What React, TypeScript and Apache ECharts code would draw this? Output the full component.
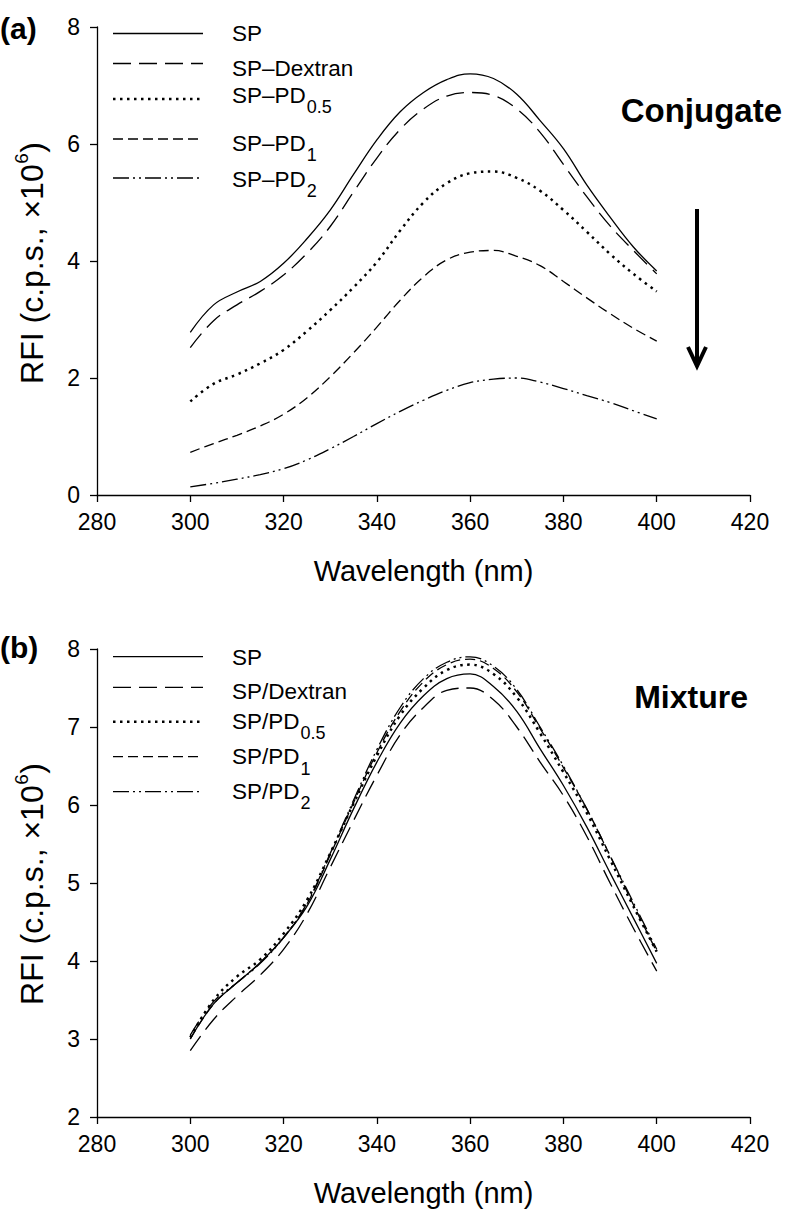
import React, { useEffect, useRef } from "react";
import * as echarts from "echarts";

const wavelengths = [300, 305, 310, 315, 320, 325, 330, 335, 340, 345, 350, 355, 360, 365, 370, 375, 380, 385, 390, 395, 400];

// (a) Conjugate
const conjSP = [2.78, 3.25, 3.47, 3.65, 3.96, 4.38, 4.87, 5.48, 6.07, 6.55, 6.88, 7.1, 7.2, 7.12, 6.85, 6.4, 5.92, 5.3, 4.75, 4.24, 3.83];
const conjDextran = [2.52, 2.98, 3.25, 3.48, 3.76, 4.13, 4.59, 5.18, 5.76, 6.25, 6.6, 6.82, 6.88, 6.83, 6.6, 6.2, 5.65, 5.1, 4.6, 4.18, 3.78];
const conjPD05 = [1.6, 1.9, 2.06, 2.25, 2.48, 2.8, 3.16, 3.55, 3.98, 4.52, 5.0, 5.33, 5.5, 5.53, 5.42, 5.2, 4.87, 4.5, 4.12, 3.78, 3.48];
const conjPD1 = [0.73, 0.88, 1.02, 1.18, 1.38, 1.66, 2.02, 2.43, 2.87, 3.33, 3.73, 4.02, 4.15, 4.18, 4.08, 3.92, 3.65, 3.37, 3.1, 2.85, 2.63];
const conjPD2 = [0.14, 0.2, 0.27, 0.35, 0.45, 0.6, 0.79, 1.0, 1.22, 1.43, 1.62, 1.79, 1.92, 1.98, 2.0, 1.93, 1.82, 1.7, 1.58, 1.44, 1.3];

// (b) Mixture
const mixSP = [3.0, 3.45, 3.72, 3.98, 4.3, 4.7, 5.3, 5.95, 6.55, 7.05, 7.4, 7.62, 7.68, 7.52, 7.2, 6.72, 6.25, 5.72, 5.13, 4.55, 3.97];
const mixDextran = [2.85, 3.25, 3.55, 3.82, 4.15, 4.6, 5.2, 5.8, 6.38, 6.9, 7.25, 7.47, 7.5, 7.35, 7.0, 6.55, 6.12, 5.6, 5.0, 4.42, 3.87];
const mixPD05 = [3.02, 3.5, 3.8, 4.02, 4.35, 4.78, 5.38, 6.02, 6.63, 7.15, 7.5, 7.73, 7.8, 7.68, 7.38, 6.92, 6.42, 5.9, 5.3, 4.7, 4.12];
const mixPD1 = [3.0, 3.45, 3.72, 3.98, 4.3, 4.73, 5.36, 6.03, 6.67, 7.2, 7.58, 7.8, 7.87, 7.75, 7.45, 6.98, 6.48, 5.95, 5.35, 4.72, 4.12];
const mixPD2 = [3.05, 3.48, 3.72, 3.97, 4.3, 4.74, 5.38, 6.06, 6.71, 7.25, 7.62, 7.83, 7.9, 7.78, 7.48, 7.0, 6.5, 5.95, 5.35, 4.75, 4.15];

// legend labels: [main text, subscript]
const conjNames: [string, string][] = [["SP", ""], ["SP–Dextran", ""], ["SP–PD", "0.5"], ["SP–PD", "1"], ["SP–PD", "2"]];
const mixNames: [string, string][] = [["SP", ""], ["SP/Dextran", ""], ["SP/PD", "0.5"], ["SP/PD", "1"], ["SP/PD", "2"]];
const conjSeries = [conjSP, conjDextran, conjPD05, conjPD1, conjPD2];
const mixSeries = [mixSP, mixDextran, mixPD05, mixPD1, mixPD2];

const FONT = "'Liberation Sans', Arial, Helvetica, sans-serif";

const dashStyles: { dash: number[] | null; width: number }[] = [
  { dash: null, width: 1.3 },
  { dash: [18, 8], width: 1.3 },
  { dash: [2.5, 4.5], width: 2.5 },
  { dash: [10, 5], width: 1.3 },
  { dash: [16, 4, 2, 4, 2, 4], width: 1.3 },
];

let measureCtx: CanvasRenderingContext2D | null = null;
function measure(text: string, font: string): number {
  if (!measureCtx) measureCtx = document.createElement("canvas").getContext("2d");
  if (!measureCtx) return text.length * 10;
  measureCtx.font = font;
  return measureCtx.measureText(text).width;
}

export default function App() {
  const ref = useRef<HTMLDivElement>(null);
  useEffect(() => {
    document.body.style.margin = "0";
    if (!ref.current) return;
    const chart = echarts.init(ref.current, null, { renderer: "svg" });

    const axisLine = { show: true, lineStyle: { color: "#000", width: 1.3 } };
    const axisTick = { show: true, inside: false, length: 7, lineStyle: { color: "#000", width: 1.3 } };
    const axisLabelX = { color: "#000", fontSize: 23, fontFamily: FONT, margin: 15 };
    const axisLabelY = { color: "#000", fontSize: 23, fontFamily: FONT, margin: 17 };

    const mkX = (gridIndex: number) => ({
      type: "value",
      gridIndex,
      min: 280,
      max: 420,
      interval: 20,
      name: "Wavelength (nm)",
      nameLocation: "middle",
      nameGap: 61,
      nameTextStyle: { color: "#000", fontSize: 29, fontFamily: FONT },
      axisLine,
      axisTick,
      axisLabel: axisLabelX,
      splitLine: { show: false },
    });
    const mkY = (gridIndex: number, min: number, max: number, interval: number) => ({
      type: "value",
      gridIndex,
      min,
      max,
      interval,
      axisLine,
      axisTick,
      axisLabel: axisLabelY,
      splitLine: { show: false },
    });

    const series: any[] = [];
    const addSeries = (arrs: number[][], names: [string, string][], idx: number) => {
      arrs.forEach((arr, i) => {
        series.push({
          type: "line",
          name: names[i][0] + names[i][1] + (idx === 0 ? " (a)" : " (b)"),
          xAxisIndex: idx,
          yAxisIndex: idx,
          data: wavelengths.map((w, j) => [w, arr[j]]),
          smooth: 0.4,
          showSymbol: false,
          symbol: "none",
          lineStyle: {
            color: "#000",
            width: dashStyles[i].width,
            type: dashStyles[i].dash ? dashStyles[i].dash : "solid",
            cap: "butt",
          },
          z: 10 - i,
        });
      });
    };
    addSeries(conjSeries, conjNames, 0);
    addSeries(mixSeries, mixNames, 1);

    const LEG_FS = 22.5;
    const SUB_FS = 18;
    const legFont = `${LEG_FS}px ${FONT}`;
    const subFont = `${SUB_FS}px ${FONT}`;

    const legendGraphics = (names: [string, string][], lineYs: number[], textYs: number[]) => {
      const els: any[] = [];
      names.forEach((n, i) => {
        els.push({
          type: "line",
          shape: { x1: 113, y1: lineYs[i], x2: 203, y2: lineYs[i] },
          style: {
            stroke: "#000",
            lineWidth: dashStyles[i].width,
            lineDash: dashStyles[i].dash || undefined,
          },
          silent: true,
        });
        els.push({
          type: "text",
          x: 232,
          y: textYs[i],
          style: { text: n[0], fill: "#000", align: "left", verticalAlign: "middle", font: legFont },
          silent: true,
        });
        if (n[1]) {
          els.push({
            type: "text",
            x: 232 + measure(n[0], legFont) + 1,
            y: textYs[i] + 12,
            style: { text: n[1], fill: "#000", align: "left", verticalAlign: "middle", font: subFont },
            silent: true,
          });
        }
      });
      return els;
    };

    // rotated y-axis title with superscript
    const TITLE_FS = 32;
    const SUP_FS = 19;
    const tFont = `${TITLE_FS}px ${FONT}`;
    const sFont = `${SUP_FS}px ${FONT}`;
    const yTitle = (cx: number, cy: number) => {
      const p1 = "RFI (c.p.s., ×10";
      const p2 = "6";
      const p3 = ")";
      const w1 = measure(p1, tFont);
      const w2 = measure(p2, sFont);
      const w3 = measure(p3, tFont);
      const total = w1 + w2 + w3 + 1;
      const x0 = -total / 2;
      return {
        type: "group",
        x: cx,
        y: cy,
        rotation: Math.PI / 2,
        silent: true,
        children: [
          { type: "text", x: x0, y: 0, style: { text: p1, font: tFont, fill: "#000", align: "left", verticalAlign: "middle" } },
          { type: "text", x: x0 + w1 + 0.5, y: -11, style: { text: p2, font: sFont, fill: "#000", align: "left", verticalAlign: "middle" } },
          { type: "text", x: x0 + w1 + w2 + 1, y: 0, style: { text: p3, font: tFont, fill: "#000", align: "left", verticalAlign: "middle" } },
        ],
      };
    };

    const graphic: any[] = [
      ...legendGraphics(conjNames, [33.5, 63.5, 99, 139, 178], [33.5, 68, 95, 143, 179]),
      ...legendGraphics(mixNames, [656.7, 687.3, 721.7, 756.7, 791.7], [657.5, 691.5, 721, 756.5, 791]),
      yTitle(32, 263),
      yTitle(32, 884),
      {
        type: "text",
        x: 0,
        y: 28,
        style: { text: "(a)", fill: "#000", font: `bold 30px ${FONT}`, align: "left", verticalAlign: "middle" },
      },
      {
        type: "text",
        x: 0,
        y: 647,
        style: { text: "(b)", fill: "#000", font: `bold 30px ${FONT}`, align: "left", verticalAlign: "middle" },
      },
      {
        type: "text",
        x: 782,
        y: 110,
        style: { text: "Conjugate", fill: "#000", font: `bold 33px ${FONT}`, align: "right", verticalAlign: "middle" },
      },
      {
        type: "text",
        x: 748,
        y: 697,
        style: { text: "Mixture", fill: "#000", font: `bold 32px ${FONT}`, align: "right", verticalAlign: "middle" },
      },
      {
        type: "line",
        shape: { x1: 697, y1: 209, x2: 697, y2: 362 },
        style: { stroke: "#000", lineWidth: 4 },
      },
      {
        type: "polyline",
        shape: { points: [[688, 347], [697, 366], [706, 347]] },
        style: { stroke: "#000", lineWidth: 4, fill: null },
      },
    ];

    chart.setOption({
      animation: false,
      backgroundColor: "#fff",
      grid: [
        { left: 97, top: 27, width: 653, height: 468, containLabel: false },
        { left: 97, top: 649, width: 653, height: 468, containLabel: false },
      ],
      xAxis: [mkX(0), mkX(1)],
      yAxis: [mkY(0, 0, 8, 2), mkY(1, 2, 8, 1)],
      series,
      graphic,
    });
    return () => chart.dispose();
  }, []);
  return <div ref={ref} style={{ width: 786, height: 1211 }} />;
}
